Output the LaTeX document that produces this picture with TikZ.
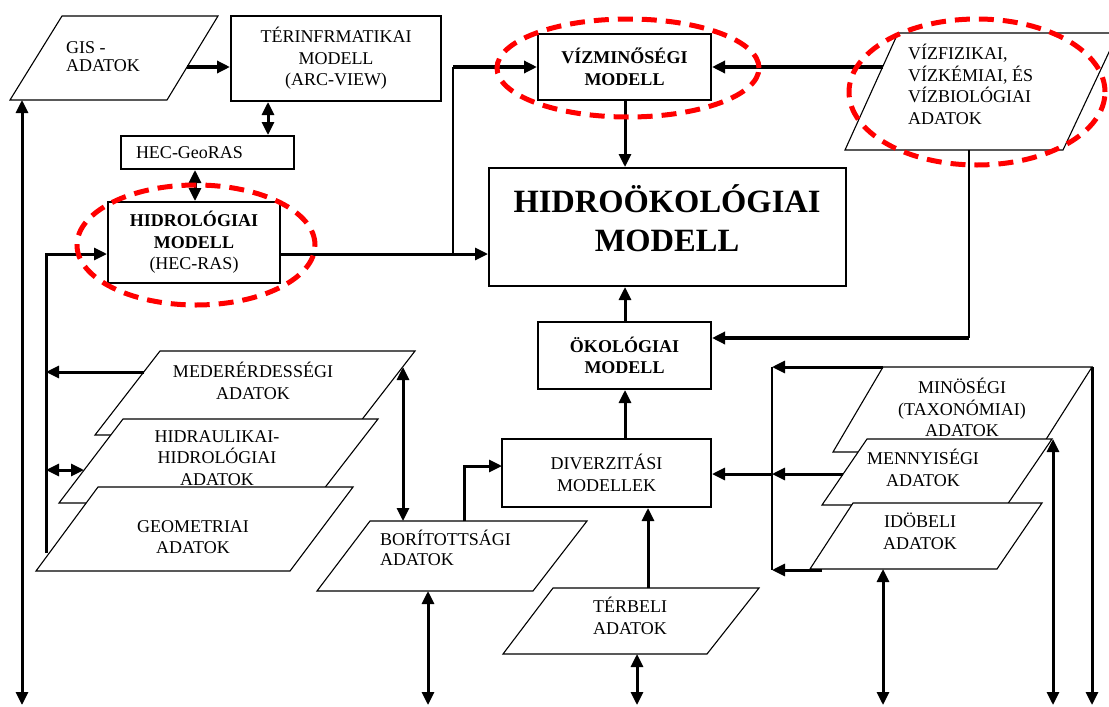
\documentclass[tikz,border=0pt]{standalone}
\usepackage{fontspec}
\setmainfont{Liberation Serif}
\usetikzlibrary{arrows.meta}
\tikzset{
  box/.style={draw, line width=2pt, fill=white, inner sep=0pt, align=center,
    font=\fontsize{18}{21.5}\selectfont},
  para/.style={draw, line width=1.1pt, fill=white},
  lbl/.style={inner sep=0pt, align=center, font=\fontsize{18}{21.5}\selectfont},
  tip/.tip={Triangle[length=13pt,width=12pt]},
  conn/.style={line width=3pt, -tip},
  dconn/.style={line width=3pt, tip-tip},
  thinline/.style={line width=2pt},
  redring/.style={draw=red, line width=5pt, dash pattern=on 15pt off 9pt},
}
\begin{document}
\begin{tikzpicture}[x=1pt,y=-1pt]
\useasboundingbox (0,0) rectangle (1109,707);
\fill[white] (0,0) rectangle (1109,707);

% ---------- rectangles ----------
\node[box, minimum width=210pt, minimum height=85pt] (ter) at (336,58.5)
  {TÉRINFRMATIKAI\\MODELL\\(ARC-VIEW)};
\node[box, minimum height=33pt, text width=143pt, inner xsep=15pt, align=left, anchor=west]
  (geo) at (120,152.5) {HEC-GeoRAS};
\node[box, minimum width=172pt, minimum height=81pt] (hid) at (194,242.5)
  {\textbf{HIDROLÓGIAI}\\\textbf{MODELL}\\(HEC-RAS)};
\node[box, minimum width=173pt, minimum height=66pt] (vmin) at (624.5,67)
  {\textbf{VÍZMINŐSÉGI}\\\textbf{MODELL}};
\node[box, minimum width=357pt, minimum height=118pt] (hok) at (667.5,227) {};
\node[inner sep=0pt, align=center, font=\fontsize{32.5}{39}\selectfont\bfseries]
  (hokt) at (667,218) {HIDROÖKOLÓGIAI\\MODELL};
\node[box, minimum width=173pt, minimum height=67pt] (oko) at (624.5,355.5)
  {\textbf{ÖKOLÓGIAI}\\\textbf{MODELL}};
\node[box, minimum width=209pt, minimum height=68pt] (div) at (606.5,473)
  {DIVERZITÁSI\\MODELLEK};

% ---------- parallelograms ----------
\draw[para] (62,16) -- (218,16) -- (167,100) -- (10,100) -- cycle;
\node[lbl, align=left, anchor=west, font=\fontsize{18}{18}\selectfont] (gist) at (66,57) {GIS -\\ADATOK};

\draw[para] (898,33) -- (1118,33) -- (1063,150) -- (845,150) -- cycle;
\node[lbl, align=left, anchor=west] (vft) at (908,84.5)
  {VÍZFIZIKAI,\\VÍZKÉMIAI, ÉS\\VÍZBIOLÓGIAI\\ADATOK};

\draw[para] (160,351) -- (415,351) -- (350,435) -- (95,435) -- cycle;
\node[lbl] (medt) at (253,381) {MEDERÉRDESSÉGI\\ADATOK};
\draw[para] (123,419) -- (378,419) -- (313,503) -- (59,503) -- cycle;
\node[lbl] (hydt) at (217,458) {HIDRAULIKAI-\\HIDROLÓGIAI\\ADATOK};
\draw[para] (98,487) -- (353,487) -- (290,571) -- (36,571) -- cycle;
\node[lbl] (geomt) at (193,537) {GEOMETRIAI\\ADATOK};

\draw[para] (370,521) -- (587,521) -- (533,591) -- (317,591) -- cycle;
\node[lbl, align=left, anchor=west, font=\fontsize{18}{20}\selectfont] (bort) at (380,548) {BORÍTOTTSÁGI\\ADATOK};

\draw[para] (553,588) -- (759,588) -- (707,654) -- (503,654) -- cycle;
\node[lbl] (tbt) at (630,616) {TÉRBELI\\ADATOK};

\draw[para] (883,367) -- (1092,367) -- (1038,452) -- (833,452) -- cycle;
\node[lbl] (mint) at (962,407.5) {MINÖSÉGI\\(TAXONÓMIAI)\\ADATOK};
\draw[para] (867,439) -- (1052,439) -- (1007,505) -- (822,505) -- cycle;
\node[lbl] (ment) at (923,468) {MENNYISÉGI\\ADATOK};
\draw[para] (853,503) -- (1042,503) -- (997,569) -- (810,569) -- cycle;
\node[lbl] (idbt) at (920,531.5) {IDÖBELI\\ADATOK};

% ---------- named connector points ----------
\coordinate (gisR) at (187,67);
\coordinate (gisB) at (22,100);
\coordinate (b1) at (22,705);
\coordinate (j1) at (453,254);
\coordinate (j2) at (453,67);
\coordinate (j3) at (46,254);
\coordinate (geoL) at (46,553);
\coordinate (medL) at (144,372);
\coordinate (hydL) at (84,470);
\coordinate (medR) at (403,367);
\coordinate (borT1) at (403,521);
\coordinate (borB) at (428,591);
\coordinate (b2) at (428,705);
\coordinate (borT2) at (464,521);
\coordinate (divIn) at (502,466);
\coordinate (tbT) at (648,588);
\coordinate (tbB) at (637,654);
\coordinate (b3) at (637,705);
\coordinate (vfL) at (883,67);
\coordinate (vfB) at (969,150);
\coordinate (vfC) at (969,338);
\coordinate (minL) at (883,367);
\coordinate (bus1) at (772,367);
\coordinate (bus2) at (772,474);
\coordinate (bus3) at (772,570);
\coordinate (menL) at (843,474);
\coordinate (idbL) at (822,570);
\coordinate (idbB) at (883,569);
\coordinate (b4) at (883,705);
\coordinate (menT) at (1053,439);
\coordinate (b5) at (1053,705);
\coordinate (minR) at (1092,367);
\coordinate (b6) at (1092,705);

% ---------- connectors ----------
\draw[conn, line width=4.5pt] (gisR) -- (ter.west |- gisR);
\draw[dconn] (ter.south -| 268,0) -- (geo.north -| 268,0);
\draw[dconn] (geo.south -| 195,0) -- (hid.north -| 195,0);
\draw[dconn] (gisB) -- (b1);
\draw[conn] (hid.east |- j1) -- (hok.west |- j1);
\draw[thinline] (j1) -- (j2);
\draw[conn, line width=4.5pt] (j2) -- (vmin.west |- j2);
\draw[conn] (geoL) -- (j3) -- (hid.west |- j3);
\draw[conn] (medL) -- (medL -| geoL);
\draw[dconn] (hydL -| geoL) -- (hydL);
\draw[dconn] (medR) -- (borT1);
\draw[dconn] (borB) -- (b2);
\draw[conn] (borT2) |- (divIn);
\draw[conn] (tbT) -- (tbT |- div.south);
\draw[dconn] (tbB) -- (b3);
\draw[conn] (div.north -| 625,0) -- (oko.south -| 625,0);
\draw[conn] (oko.north -| 625,0) -- (hok.south -| 625,0);
\draw[conn] (vmin.south -| 625,0) -- (hok.north -| 625,0);
\draw[conn, line width=4pt] (vfL) -- (vmin.east |- vfL);
\draw[thinline] (vfB) -- (vfC);
\draw[conn, line width=3.5pt] (vfC) -- (oko.east |- vfC);
\draw[thinline] (bus1) -- (bus3);
\draw[conn] (minL) -- (bus1);
\draw[conn] (menL) -- (bus2);
\draw[conn] (bus2) -- (div.east |- bus2);
\draw[conn] (idbL) -- (bus3);
\draw[dconn] (idbB) -- (b4);
\draw[dconn] (menT) -- (b5);
\draw[conn] (minR) -- (b6);

% ---------- red dashed rings ----------
\draw[redring] (196,245) ellipse [x radius=119pt, y radius=60pt];
\draw[redring] (628,68) ellipse [x radius=131pt, y radius=49pt];
\draw[redring] (977,92) ellipse [x radius=128pt, y radius=73pt];
\end{tikzpicture}
\end{document}
